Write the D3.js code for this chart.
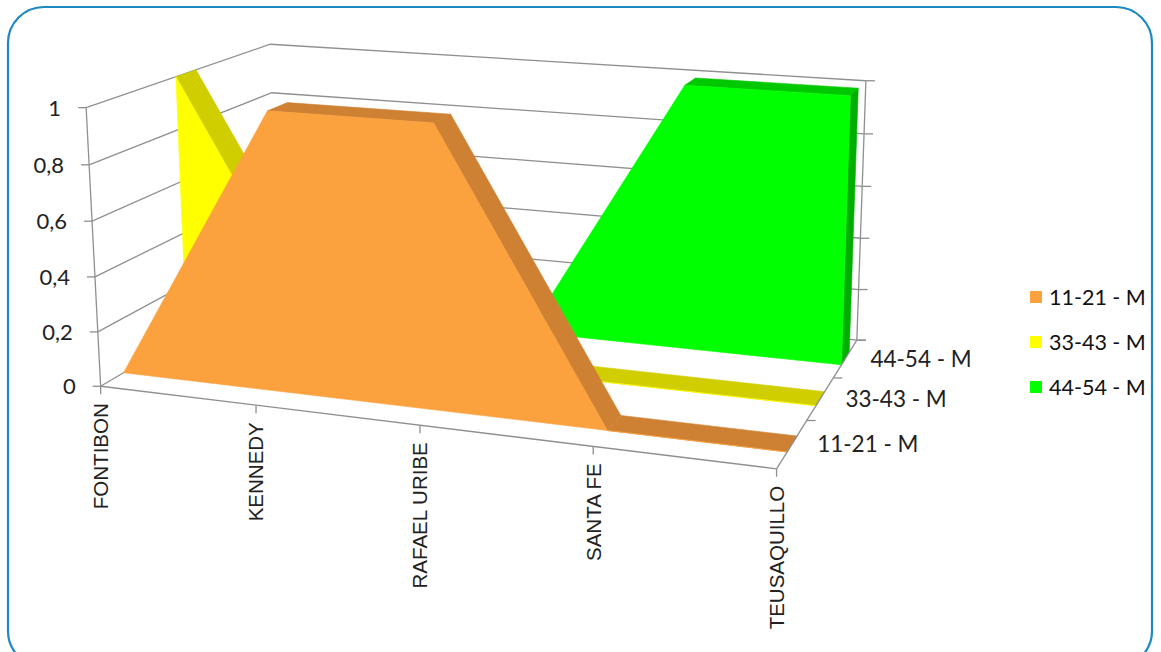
<!DOCTYPE html>
<html><head><meta charset="utf-8">
<script src="https://cdn.jsdelivr.net/npm/d3@7"></script>
<style>body{margin:0;background:#fff;} svg{display:block}</style>
</head><body>
<svg id="chart" width="1161" height="652"></svg>
<script>
// ---------------- data ----------------
const categories = ["FONTIBON", "KENNEDY", "RAFAEL URIBE", "SANTA FE", "TEUSAQUILLO"];
const seriesNames = ["11-21 - M", "33-43 - M", "44-54 - M"];
const series1121 = [0, 1, 1, 0, 0];
const series3343 = [1, 0, 0, 0, 0];
const series4454 = [0, 0, 0, 1, 1];
const valueTicks = [0, 0.2, 0.4, 0.6, 0.8, 1];
const valueTickLabels = ["0", "0,2", "0,4", "0,6", "0,8", "1"];
const seriesValues = [series1121, series3343, series4454];
const seriesColors = ["#FBA13E", "#FFFF00", "#00FF00"];
const seriesTopColors = ["#CF8133", "#D0CD00", "#00C800"];
const seriesSideColors = ["#C07530", "#BFBC00", "#00AE00"];

// ---------------- scales (world space) ----------------
const xScale = d3.scalePoint().domain(categories).range([0, 4]);
const yScale = d3.scaleLinear().domain([0, 1]).range([0, 1]);
const zScale = d3.scaleBand().domain(seriesNames).range([0, 3]).paddingInner(0.67).paddingOuter(0.335);
const zAxis = d3.scaleLinear().domain([0, 3]).range([0, 3]);

// ---------------- perspective camera (fitted to the layout) ----------------
const calib = [
  [0, 0, 0, 100.7, 385], [0, 1, 0, 86, 108], [1, 0, 0, 255, 406.7], [2, 0, 0, 421.7, 424],
  [3, 0, 0, 592.7, 448.3], [4, 0, 0, 776.7, 468.3], [4, 0, 1, 806.7, 419.3], [4, 0, 2, 832.7, 378.3],
  [4, 0, 3, 857, 341], [4, 1, 3, 866, 81], [0, 1, 3, 270, 45], [0, 0.8, 3, 272, 92], [4, 0.8, 3, 864, 133]
];
const CU = 500, CV = 300, SC = 300;
function solve(N, r) {
  const n = r.length, M = N.map((row, i) => row.concat([r[i]]));
  for (let c = 0; c < n; c++) {
    let p = c; for (let i = c + 1; i < n; i++) if (Math.abs(M[i][c]) > Math.abs(M[p][c])) p = i;
    [M[c], M[p]] = [M[p], M[c]];
    for (let i = 0; i < n; i++) if (i !== c) {
      const f = M[i][c] / M[c][c];
      for (let j = c; j <= n; j++) M[i][j] -= f * M[c][j];
    }
  }
  return M.map((row, i) => row[n] / row[i]);
}
const P = (function () {
  const A = [], b = [];
  calib.forEach(([X, Y, Z, u0, v0]) => {
    const u = (u0 - CU) / SC, v = (v0 - CV) / SC;
    A.push([X, Y, Z, 1, 0, 0, 0, 0, -u * X, -u * Y, -u * Z]); b.push(u);
    A.push([0, 0, 0, 0, X, Y, Z, 1, -v * X, -v * Y, -v * Z]); b.push(v);
  });
  const n = 11, N = d3.range(n).map(() => new Array(n).fill(0)), r = new Array(n).fill(0);
  A.forEach((row, k) => { for (let i = 0; i < n; i++) { r[i] += row[i] * b[k]; for (let j = 0; j < n; j++) N[i][j] += row[i] * row[j]; } });
  const p = solve(N, r);
  return [[p[0], p[1], p[2], p[3]], [p[4], p[5], p[6], p[7]], [p[8], p[9], p[10], 1]];
})();
function proj(x, y, z) {
  const w = P[2][0] * x + P[2][1] * y + P[2][2] * z + P[2][3];
  const u = (P[0][0] * x + P[0][1] * y + P[0][2] * z + P[0][3]) / w;
  const v = (P[1][0] * x + P[1][1] * y + P[1][2] * z + P[1][3]) / w;
  return [u * SC + CU, v * SC + CV];
}
const cam = solve(P.map(r => r.slice(0, 3)), P.map(r => -r[3]));

// ---------------- drawing ----------------
const svg = d3.select("#chart");
svg.append("rect").attr("x", 8).attr("y", 7).attr("width", 1144).attr("height", 660).attr("rx", 36)
  .attr("fill", "#fff").attr("stroke", "#1C89C2").attr("stroke-width", 2.2);

const grid = "#8F8F8F";
const line = d3.line();
const g = svg.append("g");
const X0 = xScale(categories[0]), X1 = xScale(categories[categories.length - 1]);
const Z0 = zAxis(0), Z1 = zAxis(3);

// walls gridlines
valueTicks.forEach(t => {
  const y = yScale(t);
  g.append("path").attr("d", line([proj(X0, y, Z0), proj(X0, y, Z1), proj(X1, y, Z1)]))
    .attr("fill", "none").attr("stroke", grid).attr("stroke-width", 1.3);
});
// back-right vertical axis + ticks
g.append("path").attr("d", line([proj(X1, 0, Z1), proj(X1, 1, Z1)])).attr("stroke", grid).attr("stroke-width", 1.3);
valueTicks.forEach(t => {
  const p = proj(X1, yScale(t), Z1);
  g.append("path").attr("d", line([p, [p[0] + 9, p[1]]])).attr("stroke", grid).attr("stroke-width", 1.3);
});

// series slabs, back to front
function drawSlab(vals, si) {
  const z0 = zScale(seriesNames[si]), z1 = z0 + zScale.bandwidth();
  const prof = vals.map((v, i) => [xScale(categories[i]), yScale(v)]);
  const poly = prof.concat([[X1, 0], [X0, 0]]);
  const sg = g.append("g");
  for (let k = 0; k < poly.length; k++) {
    const a = poly[k], b = poly[(k + 1) % poly.length];
    if (Math.abs(a[0] - b[0]) < 1e-9 && Math.abs(a[1] - b[1]) < 1e-9) continue;
    const nx = -(b[1] - a[1]), ny = b[0] - a[0];
    const vis = nx * (cam[0] - a[0]) + ny * (cam[1] - a[1]);
    if (vis <= 0) continue;
    const isSide = Math.abs(ny) < 1e-9;
    const col = isSide ? seriesSideColors[si] : seriesTopColors[si];
    sg.append("path").attr("d", line([proj(a[0], a[1], z0), proj(b[0], b[1], z0), proj(b[0], b[1], z1), proj(a[0], a[1], z1)]) + "Z")
      .attr("fill", col).attr("stroke", col).attr("stroke-width", 0.6).attr("stroke-linejoin", "round");
  }
  sg.append("path").attr("d", line(poly.map(p => proj(p[0], p[1], z0))) + "Z")
    .attr("fill", seriesColors[si]).attr("stroke", seriesColors[si]).attr("stroke-width", 0.6).attr("stroke-linejoin", "round");
}
[2, 1, 0].forEach(si => drawSlab(seriesValues[si], si));

// front value axis
g.append("path").attr("d", line([proj(X0, 0, Z0), proj(X0, 1, Z0)])).attr("stroke", grid).attr("stroke-width", 1.3);
valueTicks.forEach((t, i) => {
  const p = proj(X0, yScale(t), Z0);
  g.append("path").attr("d", line([[p[0] - 8, p[1]], p])).attr("stroke", grid).attr("stroke-width", 1.3);
  g.append("text").attr("x", p[0] - 25).attr("y", p[1]).attr("dy", "0.36em").attr("text-anchor", "end")
    .attr("font-family", "Lato, 'Open Sans', sans-serif").attr("font-size", 22).attr("fill", "#222")
    .text(valueTickLabels[i]);
});

// category axis (front floor edge)
g.append("path").attr("d", line([proj(X0, 0, Z0), proj(X1, 0, Z0)])).attr("stroke", grid).attr("stroke-width", 1.3);
categories.forEach(c => {
  const p = proj(xScale(c), 0, Z0);
  g.append("path").attr("d", line([p, [p[0], p[1] + 8]])).attr("stroke", grid).attr("stroke-width", 1.3);
  g.append("text").attr("transform", `translate(${p[0]},${p[1] + 17}) rotate(-90)`)
    .attr("dy", "0.36em").attr("text-anchor", "end")
    .attr("font-family", "'Liberation Sans', Arial, sans-serif").attr("font-size", 20.5).attr("fill", "#222")
    .text(c);
});

// depth axis
g.append("path").attr("d", line([proj(X1, 0, Z0), proj(X1, 0, Z1)])).attr("stroke", grid).attr("stroke-width", 1.3);
[1, 2, 3].forEach(t => {
  const p = proj(X1, 0, zAxis(t));
  g.append("path").attr("d", line([p, [p[0] + 9, p[1]]])).attr("stroke", grid).attr("stroke-width", 1.3);
});
seriesNames.forEach(s => {
  const p = proj(X1, 0, zScale(s) + zScale.bandwidth() / 2);
  g.append("text").attr("x", p[0] + 25).attr("y", p[1]).attr("dy", "0.36em")
    .attr("font-family", "Lato, 'Open Sans', sans-serif").attr("font-size", 22.5).attr("fill", "#222")
    .text(s);
});

// legend
const legendY = d3.scalePoint().domain(seriesNames).range([297, 387]);
const lg = svg.append("g");
seriesNames.forEach((s, i) => {
  const y = legendY(s);
  lg.append("rect").attr("x", 1030).attr("y", y - 6).attr("width", 12).attr("height", 12).attr("fill", seriesColors[i]);
  lg.append("text").attr("x", 1049).attr("y", y).attr("dy", "0.36em")
    .attr("font-family", "Lato, 'Open Sans', sans-serif").attr("font-size", 21.5).attr("fill", "#111")
    .text(s);
});
</script>
</body></html>
